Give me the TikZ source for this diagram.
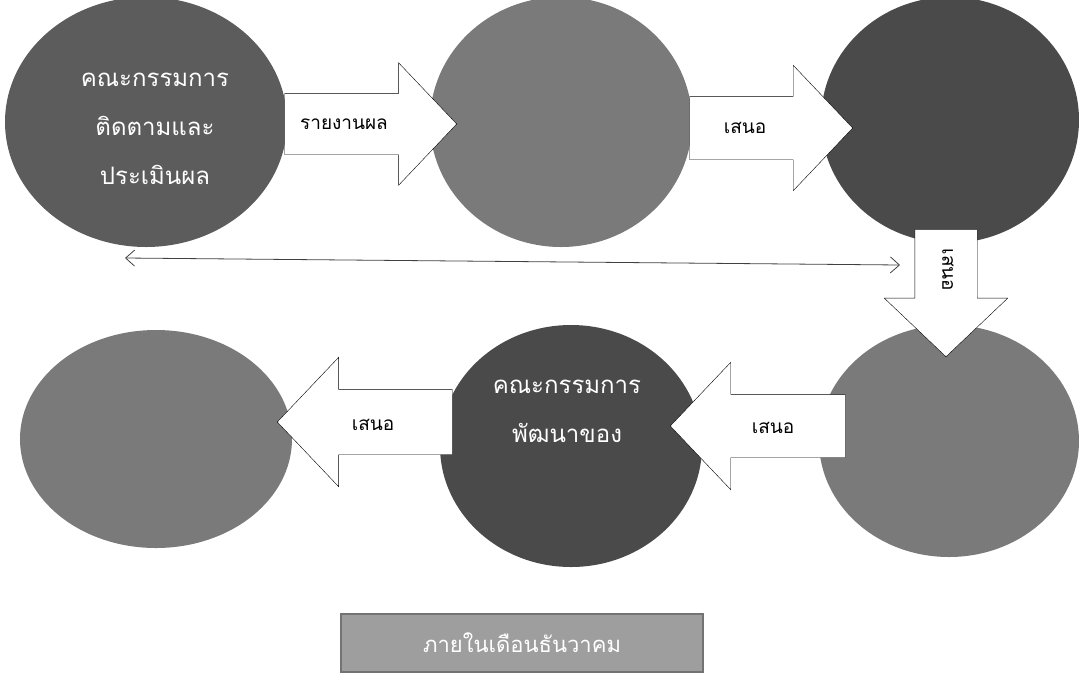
\documentclass[tikz,border=0pt]{standalone}
\usepackage{fontspec}
\usepackage{xcolor}
\usepackage{tikz}
\usetikzlibrary{arrows.meta}
\usetikzlibrary{shapes.geometric}
\usetikzlibrary{shapes.arrows}
\newfontfamily\thaifont[Script=Thai]{Loma}
\definecolor{bubbledark}{gray}{0.29}
\definecolor{bubblemid}{gray}{0.36}
\definecolor{bubblelight}{gray}{0.48}
\definecolor{boxgrey}{gray}{0.62}
\tikzset{
    ttext/.style = {align=center, inner sep=0pt, text centered},
    ctext/.style = {ttext, text=white, font=\thaifont\fontsize{24}{49}\selectfont},
    alabel/.style = {ttext, font=\thaifont\fontsize{19}{23}\selectfont},
    bubble/.style = {ellipse, draw=none, inner sep=0pt},
    dark_bubble/.style = {bubble, fill=bubbledark},
    mid_bubble/.style = {bubble, fill=bubblemid},
    light_bubble/.style = {bubble, fill=bubblelight},
    barrow/.style = {single arrow, draw=black, fill=white, thin, inner xsep=0pt,
        single arrow tip angle=93, anchor=tip},
    datebox/.style = {ttext, rectangle, fill=boxgrey, draw=black!55, line width=2.5pt,
        minimum width=362pt, minimum height=58pt, text=white,
        font=\thaifont\fontsize{22}{26}\selectfont},
    thinlink/.style = {draw=black!75, line width=0.8pt,
        {Straight Barb[length=9pt,width=16pt]}-{Straight Barb[length=9pt,width=16pt]}}
}
\begin{document}
\begin{tikzpicture}[x=1pt, y=-1pt]
    \useasboundingbox (0,0) rectangle (1079,681);
    % bubbles
    \node [mid_bubble, minimum width=282pt, minimum height=250pt] (follow) at (146,122) {};
    \node [light_bubble, minimum width=262pt, minimum height=250pt] (meet) at (561,122) {};
    \node [dark_bubble, minimum width=258pt, minimum height=246pt] (board) at (950,120) {};
    \node [light_bubble, minimum width=260pt, minimum height=232pt] (office) at (949,441) {};
    \node [dark_bubble, minimum width=262pt, minimum height=242pt] (develop) at (571,446) {};
    \node [light_bubble, minimum width=272pt, minimum height=218pt] (council) at (156,439) {};
    \node [ctext] (followtxt) at (155,129) {คณะกรรมการ\\ติดตามและ\\ประเมินผล};
    \node [ctext] (developtxt) at (567,411) {คณะกรรมการ\\พัฒนาของ};
    % thin link
    \coordinate (linkL) at (125,258);
    \coordinate (linkR) at (900,265);
    \draw [thinlink] (linkL) -- (linkR);
    % block arrows
    \node [barrow, minimum height=172pt, inner ysep=30.5pt, single arrow head extend=30.5pt] (report) at (457,124) {};
    \node [barrow, minimum height=163pt, inner ysep=31.5pt, single arrow head extend=31pt] (propose1) at (853,128) {};
    \node [barrow, rotate=-90, minimum height=127pt, inner ysep=31pt, single arrow head extend=30.5pt] (propose2) at (946,357) {};
    \node [barrow, rotate=180, minimum height=175pt, inner ysep=31.5pt, single arrow head extend=32pt] (propose3) at (670,426) {};
    \node [barrow, rotate=180, minimum height=175pt, inner ysep=32.5pt, single arrow head extend=32pt] (propose4) at (277,422) {};
    \node [alabel] (reportlbl) at (344,124) {รายงานผล};
    \node [alabel] (propose1lbl) at (745,128) {เสนอ};
    \node [alabel, rotate=-90] (propose2lbl) at (948,270) {เสนอ};
    \node [alabel] (propose3lbl) at (773,428) {เสนอ};
    \node [alabel] (propose4lbl) at (373,425) {เสนอ};
    % date box
    \node [datebox] (month) at (522,643) {ภายในเดือนธันวาคม};
\end{tikzpicture}
\end{document}
